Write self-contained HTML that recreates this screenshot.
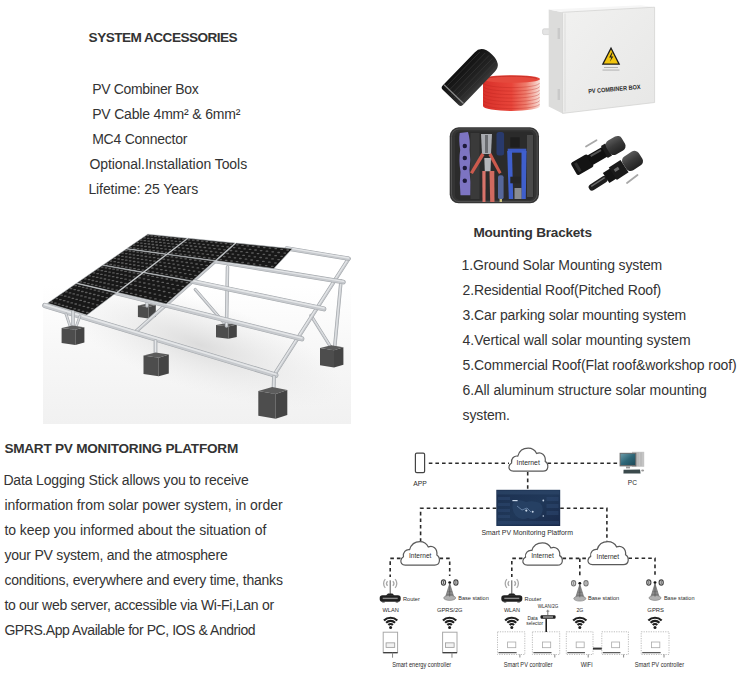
<!DOCTYPE html>
<html><head><meta charset="utf-8"><title>System Accessories</title>
<style>
html,body{margin:0;padding:0;background:#fff;}
body{width:750px;height:693px;overflow:hidden;position:relative;font-family:"Liberation Sans",sans-serif;color:#333;}
.t{position:absolute;white-space:nowrap;line-height:20px;}
svg{position:absolute;left:0;top:0;}
svg text{font-family:"Liberation Sans",sans-serif;}
</style></head><body>
<svg width="750" height="693" viewBox="0 0 750 693">
<defs>
<linearGradient id="sg" x1="0" y1="0" x2="0" y2="1">
<stop offset="0" stop-color="#ffffff"/><stop offset="0.3" stop-color="#ffffff"/><stop offset="0.6" stop-color="#f8f8f8"/><stop offset="1" stop-color="#f1f1f1"/></linearGradient>
<radialGradient id="sh" cx="0.5" cy="0.5" r="0.5"><stop offset="0" stop-color="#d9d9d9" stop-opacity="0.9"/><stop offset="1" stop-color="#e8e8e8" stop-opacity="0"/></radialGradient>
</defs>
<rect x="43" y="226" width="308" height="198" fill="url(#sg)"/>
<ellipse cx="200" cy="345" rx="150" ry="45" fill="url(#sh)" transform="rotate(18 200 345)"/>
<polygon points="137.9,305.6 148.6,307.0 148.6,318.5 137.9,317.0" fill="#4d4d4d"/><polygon points="148.6,307.0 155.8,305.1 155.8,316.7 148.6,318.5" fill="#444444"/><polygon points="137.9,305.6 146.5,303.8 155.8,305.1 148.6,307.0" fill="#5c5c5c"/>
<polygon points="216.0,325.1 228.5,326.6 228.5,338.8 216.0,337.3" fill="#4d4d4d"/><polygon points="228.5,326.6 236.8,324.6 236.8,336.9 228.5,338.8" fill="#444444"/><polygon points="216.0,325.1 226.0,323.2 236.8,324.6 228.5,326.6" fill="#5c5c5c"/>
<line x1="227.5" y1="267" x2="226.5" y2="326" stroke="#a3a7ab" stroke-width="3.5" stroke-linecap="round"/><line x1="227.5" y1="267" x2="226.5" y2="326" stroke="#c6c9cd" stroke-width="2.4" stroke-linecap="round"/><line x1="227.5" y1="266.472" x2="226.5" y2="325.472" stroke="#e4e6e8" stroke-width="0.96" stroke-linecap="round"/>
<line x1="341" y1="281" x2="334.5" y2="349" stroke="#a3a7ab" stroke-width="3.5" stroke-linecap="round"/><line x1="341" y1="281" x2="334.5" y2="349" stroke="#c6c9cd" stroke-width="2.4" stroke-linecap="round"/><line x1="341" y1="280.472" x2="334.5" y2="348.472" stroke="#e4e6e8" stroke-width="0.96" stroke-linecap="round"/>
<line x1="147" y1="296" x2="147" y2="306" stroke="#a3a7ab" stroke-width="3.3000000000000003" stroke-linecap="round"/><line x1="147" y1="296" x2="147" y2="306" stroke="#c6c9cd" stroke-width="2.2" stroke-linecap="round"/><line x1="147" y1="295.516" x2="147" y2="305.516" stroke="#e4e6e8" stroke-width="0.8800000000000001" stroke-linecap="round"/>
<line x1="195.2" y1="289.4" x2="223.8" y2="322.6" stroke="#a3a7ab" stroke-width="3.1" stroke-linecap="round"/><line x1="195.2" y1="289.4" x2="223.8" y2="322.6" stroke="#c6c9cd" stroke-width="2.0" stroke-linecap="round"/><line x1="195.2" y1="288.96" x2="223.8" y2="322.16" stroke="#e4e6e8" stroke-width="0.8" stroke-linecap="round"/>
<line x1="310.9" y1="315.4" x2="331.7" y2="348.6" stroke="#a3a7ab" stroke-width="3.1" stroke-linecap="round"/><line x1="310.9" y1="315.4" x2="331.7" y2="348.6" stroke="#c6c9cd" stroke-width="2.0" stroke-linecap="round"/><line x1="310.9" y1="314.96" x2="331.7" y2="348.16" stroke="#e4e6e8" stroke-width="0.8" stroke-linecap="round"/>
<line x1="232.02358527353192" y1="246.27956898623913" x2="135.22382398342404" y2="332.21471866113677" stroke="#a3a7ab" stroke-width="3.7" stroke-linecap="round"/><line x1="232.02358527353192" y1="246.27956898623913" x2="135.22382398342404" y2="332.21471866113677" stroke="#c6c9cd" stroke-width="2.6" stroke-linecap="round"/><line x1="232.02358527353192" y1="245.70756898623912" x2="135.22382398342404" y2="331.64271866113677" stroke="#e4e6e8" stroke-width="1.04" stroke-linecap="round"/>
<line x1="348.6" y1="258.7" x2="273.5" y2="376" stroke="#a3a7ab" stroke-width="3.9" stroke-linecap="round"/><line x1="348.6" y1="258.7" x2="273.5" y2="376" stroke="#c6c9cd" stroke-width="2.8" stroke-linecap="round"/><line x1="348.6" y1="258.084" x2="273.5" y2="375.384" stroke="#e4e6e8" stroke-width="1.1199999999999999" stroke-linecap="round"/>
<line x1="286.61335920662464" y1="248.32119912124583" x2="348.6" y2="258.7" stroke="#a3a7ab" stroke-width="4.300000000000001" stroke-linecap="round"/><line x1="286.61335920662464" y1="248.32119912124583" x2="348.6" y2="258.7" stroke="#c6c9cd" stroke-width="3.2" stroke-linecap="round"/><line x1="286.61335920662464" y1="247.61719912124582" x2="348.6" y2="257.996" stroke="#e4e6e8" stroke-width="1.2800000000000002" stroke-linecap="round"/>
<line x1="210.2469800425318" y1="260.2094666691642" x2="343.4" y2="282.1" stroke="#a3a7ab" stroke-width="4.6" stroke-linecap="round"/><line x1="210.2469800425318" y1="260.2094666691642" x2="343.4" y2="282.1" stroke="#c6c9cd" stroke-width="3.5" stroke-linecap="round"/><line x1="210.2469800425318" y1="259.43946666916423" x2="343.4" y2="281.33000000000004" stroke="#e4e6e8" stroke-width="1.4000000000000001" stroke-linecap="round"/>
<line x1="187.20019807466076" y1="280.3348547116161" x2="323.9" y2="308.9" stroke="#a3a7ab" stroke-width="4.9" stroke-linecap="round"/><line x1="187.20019807466076" y1="280.3348547116161" x2="323.9" y2="308.9" stroke="#c6c9cd" stroke-width="3.8" stroke-linecap="round"/><line x1="187.20019807466076" y1="279.4988547116161" x2="323.9" y2="308.06399999999996" stroke="#e4e6e8" stroke-width="1.52" stroke-linecap="round"/>
<line x1="112.41259112036578" y1="291.6855285993075" x2="301.8" y2="338.8" stroke="#a3a7ab" stroke-width="5.1" stroke-linecap="round"/><line x1="112.41259112036578" y1="291.6855285993075" x2="301.8" y2="338.8" stroke="#c6c9cd" stroke-width="4.0" stroke-linecap="round"/><line x1="112.41259112036578" y1="290.8055285993075" x2="301.8" y2="337.92" stroke="#e4e6e8" stroke-width="1.6" stroke-linecap="round"/>
<line x1="44.8" y1="305.5" x2="275.8" y2="375.2" stroke="#a3a7ab" stroke-width="5.300000000000001" stroke-linecap="round"/><line x1="44.8" y1="305.5" x2="275.8" y2="375.2" stroke="#c6c9cd" stroke-width="4.2" stroke-linecap="round"/><line x1="44.8" y1="304.576" x2="275.8" y2="374.276" stroke="#e4e6e8" stroke-width="1.6800000000000002" stroke-linecap="round"/>
<polygon points="147.8,234.2 187.3,238.2 166.6,254.0 126.8,248.6" fill="#181818" stroke="#b4b8bc" stroke-width="0.6"/><path d="M147.2,235.5h1.5M143.8,237.9h1.5M140.4,240.2h1.5M136.9,242.6h1.5M133.4,245.1h1.5M129.8,247.6h1.5M150.9,235.9h1.5M147.5,238.3h1.5M144.1,240.7h1.5M140.6,243.1h1.5M137.1,245.6h1.5M133.5,248.1h1.5M154.7,236.3h1.5M151.3,238.7h1.5M147.9,241.1h1.5M144.4,243.6h1.5M140.9,246.0h1.5M137.3,248.6h1.5M158.5,236.7h1.5M155.1,239.1h1.5M151.7,241.5h1.5M148.2,244.0h1.5M144.7,246.5h1.5M141.1,249.1h1.5M162.4,237.1h1.5M159.0,239.5h1.5M155.6,242.0h1.5M152.1,244.5h1.5M148.6,247.0h1.5M145.0,249.6h1.5M166.3,237.5h1.5M163.0,240.0h1.5M159.6,242.4h1.5M156.1,245.0h1.5M152.6,247.5h1.5M149.0,250.1h1.5M170.3,237.9h1.5M167.0,240.4h1.5M163.6,242.9h1.5M160.1,245.4h1.5M156.6,248.0h1.5M153.0,250.7h1.5M174.4,238.3h1.5M171.1,240.8h1.5M167.7,243.4h1.5M164.2,245.9h1.5M160.7,248.6h1.5M157.1,251.2h1.5M178.5,238.8h1.5M175.2,241.3h1.5M171.8,243.8h1.5M168.4,246.4h1.5M164.9,249.1h1.5M161.3,251.8h1.5M182.7,239.2h1.5M179.4,241.7h1.5M176.0,244.3h1.5M172.6,246.9h1.5M169.1,249.6h1.5M165.5,252.3h1.5" stroke="#5c5c5c" stroke-width="1.3" stroke-linecap="round" fill="none"/>
<polygon points="188.4,238.3 235.0,243.0 215.1,260.6 167.8,254.2" fill="#181818" stroke="#b4b8bc" stroke-width="0.6"/><path d="M188.2,239.8h1.5M184.8,242.3h1.5M181.5,244.9h1.5M178.0,247.6h1.5M174.5,250.3h1.5M171.0,253.1h1.5M192.5,240.2h1.5M189.2,242.8h1.5M185.9,245.4h1.5M182.4,248.1h1.5M178.9,250.9h1.5M175.4,253.6h1.5M197.0,240.7h1.5M193.7,243.3h1.5M190.3,246.0h1.5M186.9,248.7h1.5M183.4,251.4h1.5M179.9,254.2h1.5M201.5,241.1h1.5M198.2,243.8h1.5M194.8,246.5h1.5M191.4,249.2h1.5M188.0,252.0h1.5M184.4,254.8h1.5M206.0,241.6h1.5M202.8,244.3h1.5M199.4,247.0h1.5M196.0,249.8h1.5M192.6,252.6h1.5M189.1,255.5h1.5M210.7,242.1h1.5M207.4,244.8h1.5M204.1,247.5h1.5M200.7,250.3h1.5M197.3,253.2h1.5M193.8,256.1h1.5M215.4,242.6h1.5M212.2,245.3h1.5M208.9,248.1h1.5M205.5,250.9h1.5M202.1,253.8h1.5M198.6,256.7h1.5M220.3,243.1h1.5M217.0,245.8h1.5M213.7,248.6h1.5M210.4,251.5h1.5M207.0,254.4h1.5M203.5,257.4h1.5M225.2,243.6h1.5M221.9,246.4h1.5M218.7,249.2h1.5M215.3,252.1h1.5M211.9,255.0h1.5M208.5,258.0h1.5M230.1,244.1h1.5M226.9,246.9h1.5M223.7,249.8h1.5M220.4,252.7h1.5M217.0,255.7h1.5M213.5,258.7h1.5" stroke="#5c5c5c" stroke-width="1.3" stroke-linecap="round" fill="none"/>
<polygon points="236.3,243.1 292.2,248.7 273.8,268.6 216.5,260.8" fill="#181818" stroke="#b4b8bc" stroke-width="0.6"/><path d="M236.6,244.8h1.5M233.4,247.6h1.5M230.2,250.5h1.5M226.9,253.5h1.5M223.5,256.5h1.5M220.1,259.6h1.5M241.8,245.3h1.5M238.6,248.2h1.5M235.4,251.1h1.5M232.1,254.1h1.5M228.8,257.2h1.5M225.4,260.3h1.5M247.1,245.9h1.5M243.9,248.8h1.5M240.7,251.7h1.5M237.5,254.8h1.5M234.2,257.8h1.5M230.8,261.0h1.5M252.4,246.4h1.5M249.3,249.4h1.5M246.2,252.4h1.5M242.9,255.4h1.5M239.6,258.5h1.5M236.3,261.7h1.5M257.9,247.0h1.5M254.8,250.0h1.5M251.7,253.0h1.5M248.5,256.1h1.5M245.2,259.2h1.5M241.9,262.5h1.5M263.5,247.6h1.5M260.4,250.6h1.5M257.3,253.6h1.5M254.1,256.8h1.5M250.9,260.0h1.5M247.6,263.2h1.5M269.2,248.1h1.5M266.2,251.2h1.5M263.1,254.3h1.5M259.9,257.5h1.5M256.7,260.7h1.5M253.4,264.0h1.5M275.0,248.7h1.5M272.0,251.8h1.5M268.9,255.0h1.5M265.8,258.2h1.5M262.6,261.4h1.5M259.3,264.8h1.5M280.9,249.4h1.5M277.9,252.5h1.5M274.9,255.7h1.5M271.8,258.9h1.5M268.6,262.2h1.5M265.4,265.6h1.5M286.9,250.0h1.5M284.0,253.1h1.5M280.9,256.3h1.5M277.9,259.6h1.5M274.7,263.0h1.5M271.5,266.4h1.5" stroke="#5c5c5c" stroke-width="1.3" stroke-linecap="round" fill="none"/>
<polygon points="126.3,249.0 166.0,254.4 143.0,272.1 103.1,264.9" fill="#181818" stroke="#b4b8bc" stroke-width="0.6"/><path d="M125.5,250.5h1.5M121.8,253.1h1.5M118.0,255.7h1.5M114.1,258.4h1.5M110.2,261.1h1.5M106.2,263.8h1.5M129.2,251.0h1.5M125.5,253.6h1.5M121.7,256.3h1.5M117.9,259.0h1.5M114.0,261.7h1.5M110.0,264.5h1.5M133.0,251.6h1.5M129.3,254.2h1.5M125.5,256.9h1.5M121.7,259.6h1.5M117.7,262.3h1.5M113.8,265.2h1.5M136.9,252.1h1.5M133.1,254.8h1.5M129.4,257.5h1.5M125.5,260.2h1.5M121.6,263.0h1.5M117.6,265.8h1.5M140.8,252.7h1.5M137.1,255.3h1.5M133.3,258.1h1.5M129.4,260.8h1.5M125.5,263.7h1.5M121.5,266.5h1.5M144.7,253.2h1.5M141.0,255.9h1.5M137.3,258.7h1.5M133.4,261.5h1.5M129.5,264.3h1.5M125.5,267.2h1.5M148.8,253.8h1.5M145.1,256.5h1.5M141.3,259.3h1.5M137.5,262.1h1.5M133.5,265.0h1.5M129.6,267.9h1.5M152.9,254.4h1.5M149.2,257.1h1.5M145.4,259.9h1.5M141.6,262.8h1.5M137.7,265.7h1.5M133.7,268.7h1.5M157.1,254.9h1.5M153.4,257.7h1.5M149.6,260.6h1.5M145.8,263.5h1.5M141.9,266.4h1.5M137.9,269.4h1.5M161.3,255.5h1.5M157.6,258.4h1.5M153.8,261.2h1.5M150.0,264.1h1.5M146.1,267.1h1.5M142.1,270.1h1.5" stroke="#5c5c5c" stroke-width="1.3" stroke-linecap="round" fill="none"/>
<polygon points="167.2,254.6 214.5,261.1 192.2,280.9 144.2,272.3" fill="#181818" stroke="#b4b8bc" stroke-width="0.6"/><path d="M166.8,256.3h1.5M163.1,259.2h1.5M159.3,262.1h1.5M155.5,265.0h1.5M151.6,268.0h1.5M147.7,271.1h1.5M171.2,256.9h1.5M167.5,259.8h1.5M163.8,262.8h1.5M160.0,265.7h1.5M156.1,268.8h1.5M152.1,271.9h1.5M175.7,257.6h1.5M172.0,260.5h1.5M168.3,263.4h1.5M164.5,266.5h1.5M160.6,269.6h1.5M156.6,272.7h1.5M180.3,258.2h1.5M176.6,261.1h1.5M172.9,264.1h1.5M169.1,267.2h1.5M165.2,270.3h1.5M161.2,273.5h1.5M184.9,258.8h1.5M181.3,261.8h1.5M177.5,264.9h1.5M173.7,268.0h1.5M169.9,271.1h1.5M165.9,274.3h1.5M189.6,259.5h1.5M186.0,262.5h1.5M182.3,265.6h1.5M178.5,268.7h1.5M174.6,271.9h1.5M170.7,275.2h1.5M194.5,260.2h1.5M190.8,263.2h1.5M187.1,266.3h1.5M183.4,269.5h1.5M179.5,272.7h1.5M175.6,276.0h1.5M199.4,260.9h1.5M195.8,264.0h1.5M192.1,267.1h1.5M188.3,270.3h1.5M184.5,273.6h1.5M180.6,276.9h1.5M204.4,261.6h1.5M200.8,264.7h1.5M197.1,267.9h1.5M193.3,271.1h1.5M189.5,274.4h1.5M185.6,277.8h1.5M209.5,262.3h1.5M205.9,265.4h1.5M202.2,268.7h1.5M198.5,271.9h1.5M194.7,275.3h1.5M190.8,278.7h1.5" stroke="#5c5c5c" stroke-width="1.3" stroke-linecap="round" fill="none"/>
<polygon points="102.5,265.3 142.4,272.6 116.6,292.3 76.8,283.0" fill="#181818" stroke="#b4b8bc" stroke-width="0.6"/><path d="M101.5,267.1h1.5M97.4,269.9h1.5M93.2,272.8h1.5M88.9,275.8h1.5M84.6,278.8h1.5M80.1,281.9h1.5M105.3,267.8h1.5M101.1,270.7h1.5M96.9,273.6h1.5M92.6,276.6h1.5M88.3,279.6h1.5M83.9,282.7h1.5M109.0,268.5h1.5M104.9,271.4h1.5M100.7,274.4h1.5M96.4,277.4h1.5M92.1,280.5h1.5M87.6,283.6h1.5M112.9,269.2h1.5M108.8,272.1h1.5M104.6,275.1h1.5M100.3,278.2h1.5M95.9,281.3h1.5M91.5,284.5h1.5M116.8,269.9h1.5M112.7,272.9h1.5M108.5,275.9h1.5M104.2,279.0h1.5M99.8,282.2h1.5M95.4,285.4h1.5M120.8,270.6h1.5M116.7,273.7h1.5M112.4,276.7h1.5M108.2,279.8h1.5M103.8,283.0h1.5M99.3,286.3h1.5M124.8,271.4h1.5M120.7,274.4h1.5M116.5,277.5h1.5M112.2,280.7h1.5M107.8,283.9h1.5M103.4,287.2h1.5M129.0,272.2h1.5M124.8,275.2h1.5M120.6,278.4h1.5M116.3,281.6h1.5M112.0,284.8h1.5M107.5,288.1h1.5M133.2,272.9h1.5M129.0,276.1h1.5M124.8,279.2h1.5M120.5,282.5h1.5M116.2,285.7h1.5M111.7,289.1h1.5M137.4,273.7h1.5M133.3,276.9h1.5M129.1,280.1h1.5M124.8,283.4h1.5M120.4,286.7h1.5M116.0,290.1h1.5" stroke="#5c5c5c" stroke-width="1.3" stroke-linecap="round" fill="none"/>
<polygon points="143.6,272.8 191.6,281.5 166.2,303.9 117.8,292.6" fill="#181818" stroke="#b4b8bc" stroke-width="0.6"/><path d="M143.0,274.7h1.5M138.8,277.9h1.5M134.6,281.2h1.5M130.3,284.5h1.5M126.0,287.9h1.5M121.5,291.4h1.5M147.4,275.6h1.5M143.3,278.8h1.5M139.1,282.1h1.5M134.8,285.5h1.5M130.4,288.9h1.5M126.0,292.4h1.5M151.9,276.4h1.5M147.8,279.7h1.5M143.6,283.0h1.5M139.3,286.4h1.5M135.0,289.9h1.5M130.5,293.4h1.5M156.6,277.3h1.5M152.5,280.6h1.5M148.3,283.9h1.5M144.0,287.4h1.5M139.6,290.9h1.5M135.2,294.5h1.5M161.3,278.1h1.5M157.2,281.5h1.5M153.0,284.9h1.5M148.7,288.4h1.5M144.3,291.9h1.5M139.9,295.6h1.5M166.1,279.0h1.5M162.0,282.4h1.5M157.8,285.9h1.5M153.5,289.4h1.5M149.2,293.0h1.5M144.7,296.7h1.5M170.9,279.9h1.5M166.9,283.4h1.5M162.7,286.9h1.5M158.4,290.4h1.5M154.1,294.1h1.5M149.7,297.8h1.5M175.9,280.8h1.5M171.8,284.3h1.5M167.7,287.9h1.5M163.4,291.5h1.5M159.1,295.2h1.5M154.7,298.9h1.5M181.0,281.8h1.5M176.9,285.3h1.5M172.8,288.9h1.5M168.5,292.6h1.5M164.2,296.3h1.5M159.8,300.1h1.5M186.2,282.7h1.5M182.1,286.3h1.5M178.0,289.9h1.5M173.8,293.7h1.5M169.4,297.4h1.5M165.0,301.3h1.5" stroke="#5c5c5c" stroke-width="1.3" stroke-linecap="round" fill="none"/>
<polygon points="76.1,283.5 115.9,292.9 86.9,315.1 47.5,303.2" fill="#181818" stroke="#b4b8bc" stroke-width="0.6"/><path d="M74.9,285.5h1.5M70.3,288.7h1.5M65.6,291.9h1.5M60.8,295.2h1.5M56.0,298.6h1.5M51.0,302.0h1.5M78.6,286.4h1.5M74.0,289.6h1.5M69.3,292.9h1.5M64.5,296.2h1.5M59.6,299.6h1.5M54.7,303.1h1.5M82.4,287.3h1.5M77.8,290.5h1.5M73.0,293.9h1.5M68.3,297.2h1.5M63.4,300.7h1.5M58.4,304.2h1.5M86.2,288.2h1.5M81.6,291.5h1.5M76.9,294.9h1.5M72.1,298.3h1.5M67.2,301.8h1.5M62.2,305.3h1.5M90.1,289.1h1.5M85.5,292.5h1.5M80.7,295.9h1.5M75.9,299.3h1.5M71.0,302.9h1.5M66.0,306.5h1.5M94.1,290.1h1.5M89.4,293.5h1.5M84.7,296.9h1.5M79.9,300.4h1.5M75.0,304.0h1.5M70.0,307.6h1.5M98.1,291.1h1.5M93.5,294.5h1.5M88.7,298.0h1.5M83.9,301.5h1.5M79.0,305.1h1.5M74.0,308.8h1.5M102.2,292.1h1.5M97.6,295.5h1.5M92.9,299.0h1.5M88.0,302.6h1.5M83.1,306.3h1.5M78.1,310.0h1.5M106.4,293.1h1.5M101.8,296.6h1.5M97.0,300.1h1.5M92.2,303.8h1.5M87.3,307.5h1.5M82.2,311.3h1.5M110.7,294.1h1.5M106.1,297.6h1.5M101.3,301.3h1.5M96.5,304.9h1.5M91.5,308.7h1.5M86.5,312.5h1.5" stroke="#5c5c5c" stroke-width="1.3" stroke-linecap="round" fill="none"/>
<line x1="73" y1="312" x2="73" y2="330" stroke="#a3a7ab" stroke-width="3.5" stroke-linecap="round"/><line x1="73" y1="312" x2="73" y2="330" stroke="#c6c9cd" stroke-width="2.4" stroke-linecap="round"/><line x1="73" y1="311.472" x2="73" y2="329.472" stroke="#e4e6e8" stroke-width="0.96" stroke-linecap="round"/>
<line x1="66" y1="314" x2="70" y2="326" stroke="#a3a7ab" stroke-width="2.7" stroke-linecap="round"/><line x1="66" y1="314" x2="70" y2="326" stroke="#c6c9cd" stroke-width="1.6" stroke-linecap="round"/><line x1="66" y1="313.648" x2="70" y2="325.648" stroke="#e4e6e8" stroke-width="0.6400000000000001" stroke-linecap="round"/>
<line x1="80" y1="316" x2="76" y2="327" stroke="#a3a7ab" stroke-width="2.7" stroke-linecap="round"/><line x1="80" y1="316" x2="76" y2="327" stroke="#c6c9cd" stroke-width="1.6" stroke-linecap="round"/><line x1="80" y1="315.648" x2="76" y2="326.648" stroke="#e4e6e8" stroke-width="0.6400000000000001" stroke-linecap="round"/>
<polygon points="61.6,327.9 75.3,329.8 75.3,345.0 61.6,343.1" fill="#4d4d4d"/><polygon points="75.3,329.8 84.4,327.2 84.4,342.6 75.3,345.0" fill="#444444"/><polygon points="61.6,327.9 72.5,325.5 84.4,327.2 75.3,329.8" fill="#5c5c5c"/>
<line x1="155.5" y1="341" x2="155.5" y2="356" stroke="#a3a7ab" stroke-width="3.7" stroke-linecap="round"/><line x1="155.5" y1="341" x2="155.5" y2="356" stroke="#c6c9cd" stroke-width="2.6" stroke-linecap="round"/><line x1="155.5" y1="340.428" x2="155.5" y2="355.428" stroke="#e4e6e8" stroke-width="1.04" stroke-linecap="round"/>
<polygon points="143.5,355.4 158.7,357.7 158.7,376.3 143.5,373.9" fill="#4d4d4d"/><polygon points="158.7,357.7 168.8,354.6 168.8,373.4 158.7,376.3" fill="#444444"/><polygon points="143.5,355.4 155.6,352.5 168.8,354.6 158.7,357.7" fill="#5c5c5c"/>
<polygon points="320.0,348.0 334.0,350.2 334.0,367.4 320.0,365.2" fill="#4d4d4d"/><polygon points="334.0,350.2 343.4,347.2 343.4,364.7 334.0,367.4" fill="#444444"/><polygon points="320.0,348.0 331.2,345.3 343.4,347.2 334.0,350.2" fill="#5c5c5c"/>
<line x1="274" y1="377" x2="273.5" y2="392" stroke="#a3a7ab" stroke-width="3.9" stroke-linecap="round"/><line x1="274" y1="377" x2="273.5" y2="392" stroke="#c6c9cd" stroke-width="2.8" stroke-linecap="round"/><line x1="274" y1="376.384" x2="273.5" y2="391.384" stroke="#e4e6e8" stroke-width="1.1199999999999999" stroke-linecap="round"/>
<polygon points="258.3,390.9 275.7,394.1 275.7,418.8 258.3,415.7" fill="#4d4d4d"/><polygon points="275.7,394.1 287.3,389.9 287.3,415.0 275.7,418.8" fill="#444444"/><polygon points="258.3,390.9 272.2,387.1 287.3,389.9 275.7,394.1" fill="#5c5c5c"/>
<defs>
<linearGradient id="redg" x1="0" y1="0" x2="1" y2="0">
<stop offset="0" stop-color="#d8302a"/><stop offset="0.5" stop-color="#e8453a"/><stop offset="0.75" stop-color="#ee7c6c"/><stop offset="0.92" stop-color="#f5c2b8"/><stop offset="1" stop-color="#f9e2dc"/></linearGradient>
<linearGradient id="boxg" x1="0" y1="0" x2="1" y2="1">
<stop offset="0" stop-color="#f1f1f0"/><stop offset="1" stop-color="#e7e7e6"/></linearGradient>
<linearGradient id="blkg" x1="0" y1="0" x2="1" y2="0">
<stop offset="0" stop-color="#101010"/><stop offset="0.7" stop-color="#262626"/><stop offset="1" stop-color="#3a3a3a"/></linearGradient>
</defs>
<rect x="542.6" y="28.8" width="8" height="5.8" rx="1.5" fill="#e4e4e4" stroke="#c8c8c8" stroke-width="0.6"/>
<polygon points="548.7,9.5 562.5,12.3 562.5,113.4 548.7,106.5" fill="#dcdcdb"/>
<polygon points="548.7,9.5 562.5,12.3 654.6,7.2 641,5.2" fill="#f6f6f6"/>
<polygon points="562.5,12.3 654.6,7.2 654.6,102.5 562.5,113.4" fill="url(#boxg)" stroke="#d0d0cf" stroke-width="0.7"/>
<line x1="565" y1="13.5" x2="565" y2="111.5" stroke="#d8d8d7" stroke-width="0.8"/>
<rect x="557.6" y="28" width="2.4" height="11" fill="#c9c9c9"/>
<rect x="557.6" y="89" width="2.4" height="11" fill="#c9c9c9"/>
<polygon points="611,46.8 601.8,64.8 620.2,64.8" fill="#1a1a1a"/>
<polygon points="611,49.4 603.9,63.4 618.1,63.4" fill="#f1c40f"/>
<path d="M611.8,52.5 L609.2,57.5 L611.4,57.5 L609.9,61.8 L613.3,56.4 L611.1,56.4 L612.6,52.5Z" fill="#1a1a1a"/>
<rect x="604" y="67" width="14" height="0.9" fill="#aaa"/><rect x="602.5" y="69.6" width="17" height="0.9" fill="#aaa"/>
<text x="588" y="91.2" font-size="6.3" font-weight="bold" fill="#2a2a2a" textLength="52.5" lengthAdjust="spacingAndGlyphs" transform="rotate(-5 614 88)" font-family="Liberation Sans, sans-serif">PV COMBINER BOX</text>
<path d="M483,79 L483,106 A28.5,5 0 0 0 540,106 L540,79 Z" fill="url(#redg)"/>
<path d="M483.5,83.0 A28,4.6 0 0 0 539.5,83.0 M483.5,86.5 A28,4.6 0 0 0 539.5,86.5 M483.5,90.0 A28,4.6 0 0 0 539.5,90.0 M483.5,93.5 A28,4.6 0 0 0 539.5,93.5 M483.5,97.0 A28,4.6 0 0 0 539.5,97.0 M483.5,100.5 A28,4.6 0 0 0 539.5,100.5 M483.5,104.0 A28,4.6 0 0 0 539.5,104.0 " stroke="#b8231c" stroke-width="0.6" fill="none" opacity="0.55"/>
<ellipse cx="511.5" cy="79" rx="28.5" ry="3.8" fill="#e5493d"/>
<path d="M486,79 A25.5,2.8 0 0 1 537,79" stroke="#c22a22" stroke-width="0.8" fill="none"/>
<g transform="rotate(44 471.5 76.5)">
<path d="M457,57 Q457,46.5 471,46.5 Q485,46.5 485,57 L485,103 Q485,106 482,106 L460,106 Q457,106 457,103 Z" fill="url(#blkg)"/>
<path d="M460.5,53 V100 M465,50 V103 M469.5,49 V104 M474,49 V104 M478.5,49 V103 M482.5,51 V101" stroke="#3a3a3a" stroke-width="0.6"/>
<path d="M457.5,101.5 L484.5,101.5" stroke="#8a8a8a" stroke-width="1.1" fill="none"/>

</g>
<rect x="449.7" y="127.3" width="89.3" height="76" rx="9" fill="#343434"/>
<rect x="451.5" y="129" width="85.7" height="72.6" rx="7.5" fill="none" stroke="#555" stroke-width="0.9"/>
<rect x="455" y="131.5" width="79" height="68.5" rx="5" fill="#2b2b2b"/>
<rect x="470.5" y="133" width="9" height="66" fill="#3a3a3a"/>
<rect x="527" y="135" width="6" height="62" fill="#4a4a4a"/>
<path d="M459.7,133 L468,132 Q470.5,140 469.6,150 Q471,160 469.5,170 Q471,182 470.3,195.3 L460.5,195.3 Q459,183 460.5,172 Q458.5,160 460.2,150 Q458.6,140 459.7,133Z" fill="#7d74c2"/>
<circle cx="464.8" cy="146" r="2.2" fill="#1d1a3a"/>
<circle cx="464.8" cy="158" r="2.2" fill="#1d1a3a"/>
<circle cx="464.8" cy="168" r="2.2" fill="#1d1a3a"/>
<circle cx="464.8" cy="180.7" r="2.2" fill="#1d1a3a"/>
<path d="M481,134 L492,134 L491,154 L482,154Z" fill="#a9abb0"/>
<path d="M485,135 L488,135 L488,153 L485,153Z" fill="#6a6c70"/>
<path d="M481.5,153 L470,172.5 L472.8,174 L484.5,155Z" fill="#cc5a4d"/>
<path d="M491.2,153 L501.5,172.5 L499,174 L488.5,155Z" fill="#cc5a4d"/>
<path d="M484.3,158 L491,158 L490.5,171.3 L484.8,171.3Z" fill="#b4b6ba"/>
<path d="M482.3,171 L485.6,171 L485.5,202 L482.5,202Z" fill="#d8736a"/>
<path d="M489.5,171 L494.3,171 L494.5,202 L490.2,202Z" fill="#d06a60"/>
<rect x="496.5" y="132" width="7.6" height="23.5" rx="2.5" fill="#293a6c"/>
<rect x="498" y="175.3" width="5.6" height="24" rx="2" fill="#56679a"/>
<rect x="499.6" y="199" width="2.4" height="3" fill="#c8c07a"/>
<rect x="510.3" y="137.3" width="9.4" height="10.2" fill="#1e1e1e"/>
<rect x="507.7" y="148.7" width="18.6" height="4" fill="#3c5ac4"/>
<path d="M507.2,151 L512,151 L513.2,199 L508.8,199Z" fill="#3f5fcc"/>
<path d="M521.5,151 L526.6,151 L525.8,199 L521.4,199Z" fill="#3f5fcc"/>
<rect x="510.3" y="176.7" width="10.7" height="6.6" fill="#262626"/>
<rect x="514.5" y="188" width="7" height="11" fill="#8a8c90"/>
<g stroke-linecap="round">
<line x1="586" y1="146.5" x2="596.5" y2="140.2" stroke="#a8a8a8" stroke-width="1.8"/>
<line x1="627" y1="183" x2="637.5" y2="175" stroke="#a8a8a8" stroke-width="1.8"/>
</g>
<defs><linearGradient id="capg" x1="0" y1="0" x2="0" y2="1"><stop offset="0" stop-color="#5a5a5a"/><stop offset="0.45" stop-color="#3a3a3a"/><stop offset="1" stop-color="#222"/></linearGradient></defs>
<g transform="translate(600,154.5) rotate(-30)">
<rect x="-30" y="-7.2" width="19" height="14.4" rx="2" fill="#141414"/>
<rect x="-27" y="-5" width="3" height="10" fill="#2e2e2e"/>
<rect x="-12" y="-5.6" width="18" height="11.2" fill="#111"/>
<rect x="-9" y="-4.2" width="12" height="2" fill="#555"/>
<rect x="5" y="-6.8" width="5" height="13.6" fill="#1c1c1c"/>
<rect x="9" y="-8" width="18" height="16" rx="5" fill="url(#capg)"/>
</g>
<g transform="translate(617,171) rotate(-33)">
<rect x="-33" y="-3.4" width="21" height="6.8" rx="3.2" fill="#1e1e1e"/>
<rect x="-30" y="-1.8" width="16" height="1.4" fill="#6a6a6a"/>
<rect x="-13" y="-6" width="9" height="12" fill="#141414"/>
<rect x="-5" y="-7.4" width="14" height="14.8" fill="#1a1a1a"/>
<rect x="-2" y="-3" width="5" height="3" fill="#6a6a6a"/>
<rect x="9" y="-8.2" width="19" height="16.4" rx="5" fill="url(#capg)"/>
</g>
<g font-family="Liberation Sans, sans-serif">
<path d="M428.8,463.2 H509" stroke="#2b2b2b" stroke-width="1.6" stroke-dasharray="3.6 3" fill="none"/>
<path d="M547.5,463.2 H619" stroke="#2b2b2b" stroke-width="1.6" stroke-dasharray="3.6 3" fill="none"/>
<path d="M527.7,472 V490" stroke="#2b2b2b" stroke-width="1.6" stroke-dasharray="3.6 3" fill="none"/>
<path d="M513.35,471.21 C509.88,471.21 508.70,468.65 508.99,466.68 C509.29,464.23 510.88,463.34 511.57,462.95 C510.88,458.82 513.85,455.47 517.80,456.06 C519.29,450.95 523.25,448.20 528.20,448.20 C532.16,448.20 535.13,450.46 536.62,453.41 C541.07,451.44 546.02,454.88 545.23,461.37 C547.50,462.75 548.00,464.72 547.80,467.18 C547.50,469.63 546.02,471.21 543.05,471.21 Z" fill="#fff" stroke="#5a5a5a" stroke-width="1.2"/>
<text x="516.6" y="465.0" font-size="6.6" text-anchor="start" fill="#2a2a2a" font-weight="normal"  textLength="23.2" lengthAdjust="spacingAndGlyphs">Internet</text>
<rect x="415.4" y="453.2" width="9.2" height="19.4" rx="1.4" fill="#fff" stroke="#444" stroke-width="1.2"/>
<text x="413.2" y="485.6" font-size="6.8" text-anchor="start" fill="#2a2a2a" font-weight="normal"  textLength="13.6" lengthAdjust="spacingAndGlyphs">APP</text>
<defs><linearGradient id="pcs" x1="0" y1="0" x2="1" y2="1"><stop offset="0" stop-color="#6a9aa8"/><stop offset="0.5" stop-color="#2f6778"/><stop offset="1" stop-color="#1d4a58"/></linearGradient></defs>
<rect x="632" y="451.8" width="12.2" height="15" fill="#c4c4c4"/>
<path d="M638,452.5 V466 M641,452.5 V466" stroke="#a0a0a0" stroke-width="0.5"/>
<rect x="619.6" y="452.8" width="16.8" height="13.6" fill="#6e6e6e"/>
<rect x="620.6" y="453.8" width="14.6" height="11.2" fill="url(#pcs)"/>
<rect x="626" y="466.4" width="4" height="2" fill="#9a9a9a"/>
<path d="M623.6,469.8 L640,469.6 L640.6,473.4 L623.4,473.6Z" fill="#3b4a4c"/>
<ellipse cx="642.6" cy="470.4" rx="1.5" ry="1" fill="#9a9a9a"/>
<text x="627.8" y="485.4" font-size="6.8" text-anchor="start" fill="#2a2a2a" font-weight="normal"  textLength="9.2" lengthAdjust="spacingAndGlyphs">PC</text>
<defs><linearGradient id="scr" x1="0" y1="0" x2="1" y2="1"><stop offset="0" stop-color="#1c3050"/><stop offset="0.5" stop-color="#203859"/><stop offset="1" stop-color="#19294a"/></linearGradient></defs>
<rect x="496.3" y="489.8" width="63.9" height="36.2" fill="url(#scr)"/>
<rect x="497" y="490.5" width="62.5" height="4" fill="#2c4668" opacity="0.7"/>
<g fill="#34507a" opacity="0.4"><rect x="498" y="497" width="12" height="3"/><rect x="498" y="503" width="12" height="3"/><rect x="498" y="509" width="12" height="3"/><rect x="498" y="515" width="12" height="3"/><rect x="546.5" y="497" width="12" height="4"/><rect x="546.5" y="504" width="12" height="4"/><rect x="546.5" y="511" width="12" height="4"/><rect x="498" y="521" width="61" height="3.5"/></g>
<path d="M513,503 Q518,498 526,502 Q533,500 540,503 Q545,508 541,515 Q535,521 528,518 Q521,521 516,516 Q511,510 513,503Z" fill="#2a4468" opacity="0.7"/>
<g fill="#c8d6e8"><rect x="512.4" y="500" width="5.2" height="1.2"/><circle cx="526.3" cy="510.6" r="1.1"/><circle cx="532.7" cy="511.7" r="1"/><circle cx="543.3" cy="500.5" r="0.9"/><circle cx="543.3" cy="516" r="0.8"/></g>
<path d="M517,506 L522,510 L527,508 L531,512" stroke="#7f9cc0" stroke-width="0.7" fill="none"/>
<text x="481.5" y="535.2" font-size="7.2" text-anchor="start" fill="#2a2a2a" font-weight="normal"  textLength="91.4" lengthAdjust="spacingAndGlyphs">Smart PV Monitoring Platform</text>
<path d="M496.3,508.3 H420.6 V541.5" stroke="#2b2b2b" stroke-width="1.6" stroke-dasharray="3.6 3" fill="none"/>
<path d="M560.2,508.3 H606.9 V541.5" stroke="#2b2b2b" stroke-width="1.6" stroke-dasharray="3.6 3" fill="none"/>
<path d="M400.5,558.4 H390.2 V577" stroke="#2b2b2b" stroke-width="1.6" stroke-dasharray="3.6 3" fill="none"/>
<path d="M439.5,558.4 H449.7 V576" stroke="#2b2b2b" stroke-width="1.6" stroke-dasharray="3.6 3" fill="none"/>
<path d="M405.21,565.10 C401.77,565.10 400.59,562.49 400.89,560.48 C401.18,557.97 402.76,557.06 403.44,556.66 C402.76,552.45 405.70,549.03 409.63,549.63 C411.11,544.41 415.04,541.60 419.95,541.60 C423.88,541.60 426.83,543.91 428.30,546.92 C432.72,544.91 437.63,548.43 436.85,555.06 C439.11,556.46 439.60,558.47 439.40,560.98 C439.11,563.49 437.63,565.10 434.69,565.10 Z" fill="#fff" stroke="#5a5a5a" stroke-width="1.2"/>
<text x="409.0" y="557.9" font-size="6.6" text-anchor="start" fill="#2a2a2a" font-weight="normal"  textLength="22.4" lengthAdjust="spacingAndGlyphs">Internet</text>
<path d="M522.5,558.4 H511.8 V577" stroke="#2b2b2b" stroke-width="1.6" stroke-dasharray="3.6 3" fill="none"/>
<path d="M562.5,558.4 H587.5" stroke="#2b2b2b" stroke-width="1.6" stroke-dasharray="3.6 3" fill="none"/>
<path d="M579.8,558.4 V577" stroke="#2b2b2b" stroke-width="1.6" stroke-dasharray="3.6 3" fill="none"/>
<path d="M527.32,565.12 C523.81,565.12 522.60,562.65 522.90,560.75 C523.20,558.38 524.81,557.52 525.52,557.14 C524.81,553.15 527.83,549.92 531.85,550.49 C533.35,545.55 537.38,542.89 542.40,542.89 C546.42,542.89 549.43,545.08 550.94,547.93 C555.46,546.03 560.49,549.35 559.69,555.62 C562.00,556.95 562.50,558.85 562.30,561.23 C562.00,563.60 560.49,565.12 557.47,565.12 Z" fill="#fff" stroke="#5a5a5a" stroke-width="1.2"/>
<text x="531.2" y="558.3" font-size="6.6" text-anchor="start" fill="#2a2a2a" font-weight="normal"  textLength="22.6" lengthAdjust="spacingAndGlyphs">Internet</text>
<path d="M628.4,558.2 H655 V577" stroke="#2b2b2b" stroke-width="1.6" stroke-dasharray="3.6 3" fill="none"/>
<path d="M592.52,564.61 C588.94,564.61 587.71,562.06 588.01,560.10 C588.32,557.66 589.96,556.77 590.68,556.38 C589.96,552.27 593.04,548.94 597.14,549.53 C598.67,544.44 602.77,541.70 607.90,541.70 C612.00,541.70 615.07,543.95 616.61,546.89 C621.23,544.93 626.35,548.35 625.53,554.82 C627.89,556.19 628.40,558.15 628.19,560.59 C627.89,563.04 626.35,564.61 623.27,564.61 Z" fill="#fff" stroke="#5a5a5a" stroke-width="1.2"/>
<text x="596.6" y="558.6" font-size="6.6" text-anchor="start" fill="#2a2a2a" font-weight="normal"  textLength="22.6" lengthAdjust="spacingAndGlyphs">Internet</text>
<line x1="390.2" y1="580.3" x2="390.2" y2="594.3" stroke="#444" stroke-width="0.9"/><path d="M392.88,581.09 A3.6,3.6 0 0 1 392.88,585.91" stroke="#a8a8a8" stroke-width="1.3" fill="none"/><path d="M387.52,581.09 A3.6,3.6 0 0 0 387.52,585.91" stroke="#a8a8a8" stroke-width="1.3" fill="none"/><path d="M395.10,579.08 A6.6,6.6 0 0 1 395.10,587.92" stroke="#a8a8a8" stroke-width="1.3" fill="none"/><path d="M385.30,579.08 A6.6,6.6 0 0 0 385.30,587.92" stroke="#a8a8a8" stroke-width="1.3" fill="none"/><path d="M385.7,595.8 L388.0,593.5 L392.4,593.5 L394.7,595.8Z" fill="#222"/><rect x="379.7" y="595.3" width="21" height="6.4" rx="2.8" fill="#1f1f1f"/><rect x="382.7" y="597.6999999999999" width="15" height="1.4" fill="#8a8a8a"/><rect x="382.2" y="601.3" width="2.5" height="1.2" fill="#333"/><rect x="395.7" y="601.3" width="2.5" height="1.2" fill="#333"/>
<text x="403.0" y="600.5" font-size="5.8" text-anchor="start" fill="#2a2a2a" font-weight="normal"  textLength="16.8" lengthAdjust="spacingAndGlyphs">Router</text>
<text x="382.4" y="611.8" font-size="6.2" text-anchor="start" fill="#2a2a2a" font-weight="normal"  textLength="16.4" lengthAdjust="spacingAndGlyphs">WLAN</text>
<ellipse cx="443.5" cy="582.6" rx="2.1" ry="2.7" fill="#d8d8d8" stroke="#444" stroke-width="1.1"/><line x1="443.5" y1="581.0" x2="443.5" y2="584.2" stroke="#444" stroke-width="0.8"/><ellipse cx="455.9" cy="582.6" rx="2.1" ry="2.7" fill="#d8d8d8" stroke="#444" stroke-width="1.1"/><line x1="455.9" y1="581.0" x2="455.9" y2="584.2" stroke="#444" stroke-width="0.8"/><circle cx="449.7" cy="582.6" r="1.4" fill="#111"/><path d="M449.7,583.6 L445.5,597.1 L453.9,597.1 Z" fill="#8c8c8c" stroke="#666" stroke-width="0.6"/><path d="M447.2,591.6 L452.2,591.6 M446.4,594.6 L453.0,594.6" stroke="#666" stroke-width="0.5"/><ellipse cx="449.7" cy="597.9" rx="6" ry="2.5" fill="#b0b0b0" stroke="#7a7a7a" stroke-width="0.6"/><line x1="449.7" y1="583.6" x2="449.7" y2="596.6" stroke="#555" stroke-width="0.7"/>
<text x="458.2" y="600.4" font-size="5.8" text-anchor="start" fill="#2a2a2a" font-weight="normal"  textLength="30.6" lengthAdjust="spacingAndGlyphs">Base station</text>
<text x="437.0" y="612" font-size="6.2" text-anchor="start" fill="#2a2a2a" font-weight="normal"  textLength="25.6" lengthAdjust="spacingAndGlyphs">GPRS/2G</text>
<line x1="511.8" y1="580.3" x2="511.8" y2="594.3" stroke="#444" stroke-width="0.9"/><path d="M514.48,581.09 A3.6,3.6 0 0 1 514.48,585.91" stroke="#a8a8a8" stroke-width="1.3" fill="none"/><path d="M509.12,581.09 A3.6,3.6 0 0 0 509.12,585.91" stroke="#a8a8a8" stroke-width="1.3" fill="none"/><path d="M516.70,579.08 A6.6,6.6 0 0 1 516.70,587.92" stroke="#a8a8a8" stroke-width="1.3" fill="none"/><path d="M506.90,579.08 A6.6,6.6 0 0 0 506.90,587.92" stroke="#a8a8a8" stroke-width="1.3" fill="none"/><path d="M507.3,595.8 L509.6,593.5 L514.0,593.5 L516.3,595.8Z" fill="#222"/><rect x="501.3" y="595.3" width="21" height="6.4" rx="2.8" fill="#1f1f1f"/><rect x="504.3" y="597.6999999999999" width="15" height="1.4" fill="#8a8a8a"/><rect x="503.8" y="601.3" width="2.5" height="1.2" fill="#333"/><rect x="517.3" y="601.3" width="2.5" height="1.2" fill="#333"/>
<text x="524.6" y="600.5" font-size="5.8" text-anchor="start" fill="#2a2a2a" font-weight="normal"  textLength="16.8" lengthAdjust="spacingAndGlyphs">Router</text>
<text x="503.9" y="611.5" font-size="6.2" text-anchor="start" fill="#2a2a2a" font-weight="normal"  textLength="16.0" lengthAdjust="spacingAndGlyphs">WLAN</text>
<ellipse cx="573.5999999999999" cy="583.3" rx="2.1" ry="2.7" fill="#d8d8d8" stroke="#777" stroke-width="1.1"/><line x1="573.5999999999999" y1="581.6999999999999" x2="573.5999999999999" y2="584.9" stroke="#777" stroke-width="0.8"/><ellipse cx="586.0" cy="583.3" rx="2.1" ry="2.7" fill="#d8d8d8" stroke="#777" stroke-width="1.1"/><line x1="586.0" y1="581.6999999999999" x2="586.0" y2="584.9" stroke="#777" stroke-width="0.8"/><circle cx="579.8" cy="583.3" r="1.4" fill="#111"/><path d="M579.8,584.3 L575.5999999999999,597.8 L584.0,597.8 Z" fill="#8c8c8c" stroke="#666" stroke-width="0.6"/><path d="M577.3,592.3 L582.3,592.3 M576.5,595.3 L583.0999999999999,595.3" stroke="#666" stroke-width="0.5"/><ellipse cx="579.8" cy="598.5999999999999" rx="6" ry="2.5" fill="#b0b0b0" stroke="#7a7a7a" stroke-width="0.6"/><line x1="579.8" y1="584.3" x2="579.8" y2="597.3" stroke="#555" stroke-width="0.7"/>
<text x="587.9" y="600.2" font-size="5.8" text-anchor="start" fill="#2a2a2a" font-weight="normal"  textLength="31.4" lengthAdjust="spacingAndGlyphs">Base station</text>
<text x="576.4" y="612.2" font-size="6.2" text-anchor="start" fill="#2a2a2a" font-weight="normal"  textLength="7.0" lengthAdjust="spacingAndGlyphs">2G</text>
<ellipse cx="648.8" cy="582.6" rx="2.1" ry="2.7" fill="#d8d8d8" stroke="#444" stroke-width="1.1"/><line x1="648.8" y1="581.0" x2="648.8" y2="584.2" stroke="#444" stroke-width="0.8"/><ellipse cx="661.2" cy="582.6" rx="2.1" ry="2.7" fill="#d8d8d8" stroke="#444" stroke-width="1.1"/><line x1="661.2" y1="581.0" x2="661.2" y2="584.2" stroke="#444" stroke-width="0.8"/><circle cx="655" cy="582.6" r="1.4" fill="#111"/><path d="M655,583.6 L650.8,597.1 L659.2,597.1 Z" fill="#8c8c8c" stroke="#666" stroke-width="0.6"/><path d="M652.5,591.6 L657.5,591.6 M651.7,594.6 L658.3,594.6" stroke="#666" stroke-width="0.5"/><ellipse cx="655" cy="597.9" rx="6" ry="2.5" fill="#b0b0b0" stroke="#7a7a7a" stroke-width="0.6"/><line x1="655" y1="583.6" x2="655" y2="596.6" stroke="#555" stroke-width="0.7"/>
<text x="663.9" y="599.6" font-size="5.8" text-anchor="start" fill="#2a2a2a" font-weight="normal"  textLength="30.6" lengthAdjust="spacingAndGlyphs">Base station</text>
<text x="647.3" y="611.6" font-size="6.2" text-anchor="start" fill="#2a2a2a" font-weight="normal"  textLength="16.7" lengthAdjust="spacingAndGlyphs">GPRS</text>
<path d="M388.34,624.94 A3.20,3.20 0 0 1 392.86,624.94" stroke="#1e1e1e" stroke-width="2.15" fill="none"/><path d="M386.15,622.75 A6.30,6.30 0 0 1 395.05,622.75" stroke="#1e1e1e" stroke-width="2.15" fill="none"/><path d="M383.95,620.55 A9.40,9.40 0 0 1 397.25,620.55" stroke="#1e1e1e" stroke-width="2.15" fill="none"/><circle cx="390.6" cy="627.5" r="1.50" fill="#1e1e1e"/>
<path d="M447.34,624.94 A3.20,3.20 0 0 1 451.86,624.94" stroke="#1e1e1e" stroke-width="2.15" fill="none"/><path d="M445.15,622.75 A6.30,6.30 0 0 1 454.05,622.75" stroke="#1e1e1e" stroke-width="2.15" fill="none"/><path d="M442.95,620.55 A9.40,9.40 0 0 1 456.25,620.55" stroke="#1e1e1e" stroke-width="2.15" fill="none"/><circle cx="449.6" cy="627.5" r="1.50" fill="#1e1e1e"/>
<path d="M509.54,624.94 A3.20,3.20 0 0 1 514.06,624.94" stroke="#1e1e1e" stroke-width="2.15" fill="none"/><path d="M507.35,622.75 A6.30,6.30 0 0 1 516.25,622.75" stroke="#1e1e1e" stroke-width="2.15" fill="none"/><path d="M505.15,620.55 A9.40,9.40 0 0 1 518.45,620.55" stroke="#1e1e1e" stroke-width="2.15" fill="none"/><circle cx="511.8" cy="627.5" r="1.50" fill="#1e1e1e"/>
<path d="M577.54,624.94 A3.20,3.20 0 0 1 582.06,624.94" stroke="#1e1e1e" stroke-width="2.15" fill="none"/><path d="M575.35,622.75 A6.30,6.30 0 0 1 584.25,622.75" stroke="#1e1e1e" stroke-width="2.15" fill="none"/><path d="M573.15,620.55 A9.40,9.40 0 0 1 586.45,620.55" stroke="#1e1e1e" stroke-width="2.15" fill="none"/><circle cx="579.8" cy="627.5" r="1.50" fill="#1e1e1e"/>
<path d="M652.74,624.94 A3.20,3.20 0 0 1 657.26,624.94" stroke="#1e1e1e" stroke-width="2.15" fill="none"/><path d="M650.55,622.75 A6.30,6.30 0 0 1 659.45,622.75" stroke="#1e1e1e" stroke-width="2.15" fill="none"/><path d="M648.35,620.55 A9.40,9.40 0 0 1 661.65,620.55" stroke="#1e1e1e" stroke-width="2.15" fill="none"/><circle cx="655.0" cy="627.5" r="1.50" fill="#1e1e1e"/>
<rect x="383.2" y="632.2" width="14.4" height="20.5" fill="#fff" stroke="#a8a8a8" stroke-width="1"/><rect x="386.08" y="642.86" width="8.64" height="4.51" fill="#f2f2f2" stroke="#999" stroke-width="0.8"/><line x1="383.2" y1="652.7" x2="397.59999999999997" y2="652.7" stroke="#333" stroke-width="1.2"/><line x1="392.56" y1="652.7" x2="392.56" y2="657.7" stroke="#888" stroke-width="1"/>
<rect x="442.6" y="632.2" width="14.4" height="20.5" fill="#fff" stroke="#a8a8a8" stroke-width="1"/><rect x="445.48" y="642.86" width="8.64" height="4.51" fill="#f2f2f2" stroke="#999" stroke-width="0.8"/><line x1="442.6" y1="652.7" x2="457.0" y2="652.7" stroke="#333" stroke-width="1.2"/><line x1="451.96" y1="652.7" x2="451.96" y2="657.7" stroke="#888" stroke-width="1"/>
<text x="392.2" y="667.4" font-size="6.4" text-anchor="start" fill="#2a2a2a" font-weight="normal"  textLength="59.0" lengthAdjust="spacingAndGlyphs">Smart energy controller</text>
<rect x="497.5" y="631.8" width="27.3" height="22.7" fill="#fff" stroke="#b5b5b5" stroke-width="0.9" stroke-dasharray="1.2 1.2"/><rect x="507.60" y="642.01" width="8.19" height="5.67" fill="#fff" stroke="#aaa" stroke-width="0.8"/><line x1="498.5" y1="652.68" x2="516.61" y2="652.68" stroke="#444" stroke-width="1.1"/><line x1="519.89" y1="654.5" x2="519.89" y2="657.5" stroke="#777" stroke-width="0.9"/>
<rect x="532.4" y="631.8" width="27.3" height="22.7" fill="#fff" stroke="#b5b5b5" stroke-width="0.9" stroke-dasharray="1.2 1.2"/><rect x="542.50" y="642.01" width="8.19" height="5.67" fill="#fff" stroke="#aaa" stroke-width="0.8"/><line x1="533.4" y1="652.68" x2="551.51" y2="652.68" stroke="#444" stroke-width="1.1"/><line x1="554.79" y1="654.5" x2="554.79" y2="657.5" stroke="#777" stroke-width="0.9"/>
<rect x="566.3" y="631.8" width="26.7" height="22.7" fill="#fff" stroke="#b5b5b5" stroke-width="0.9" stroke-dasharray="1.2 1.2"/><rect x="576.18" y="642.01" width="8.01" height="5.67" fill="#fff" stroke="#aaa" stroke-width="0.8"/><line x1="567.3" y1="652.68" x2="584.99" y2="652.68" stroke="#444" stroke-width="1.1"/><line x1="588.19" y1="654.5" x2="588.19" y2="657.5" stroke="#777" stroke-width="0.9"/>
<rect x="601.8" y="631.8" width="26.6" height="22.7" fill="#fff" stroke="#b5b5b5" stroke-width="0.9" stroke-dasharray="1.2 1.2"/><rect x="611.64" y="642.01" width="7.98" height="5.67" fill="#fff" stroke="#aaa" stroke-width="0.8"/><line x1="602.8" y1="652.68" x2="620.42" y2="652.68" stroke="#444" stroke-width="1.1"/><line x1="623.61" y1="654.5" x2="623.61" y2="657.5" stroke="#777" stroke-width="0.9"/>
<rect x="641.2" y="631.8" width="27.8" height="22.7" fill="#fff" stroke="#b5b5b5" stroke-width="0.9" stroke-dasharray="1.2 1.2"/><rect x="651.49" y="642.01" width="8.34" height="5.67" fill="#fff" stroke="#aaa" stroke-width="0.8"/><line x1="642.2" y1="652.68" x2="660.66" y2="652.68" stroke="#444" stroke-width="1.1"/><line x1="664.00" y1="654.5" x2="664.00" y2="657.5" stroke="#777" stroke-width="0.9"/>
<rect x="593" y="647.6" width="8.8" height="2" fill="#333"/>
<text x="503.8" y="667.4" font-size="6.4" text-anchor="start" fill="#2a2a2a" font-weight="normal"  textLength="48.8" lengthAdjust="spacingAndGlyphs">Smart PV controller</text>
<text x="580.7" y="667.4" font-size="6.4" text-anchor="start" fill="#2a2a2a" font-weight="normal"  textLength="11.8" lengthAdjust="spacingAndGlyphs">WiFi</text>
<text x="634.7" y="667.4" font-size="6.4" text-anchor="start" fill="#2a2a2a" font-weight="normal"  textLength="49.4" lengthAdjust="spacingAndGlyphs">Smart PV controller</text>
<rect x="540.5" y="615.2" width="15.1" height="3.6" rx="1.2" fill="#1f1f1f"/>
<rect x="543" y="616.4" width="10" height="1.2" fill="#bbb"/>
<line x1="546.2" y1="618.7" x2="546.2" y2="632" stroke="#111" stroke-width="1.5"/>
<line x1="547.8" y1="609.8" x2="547.8" y2="615" stroke="#555" stroke-width="0.8"/>
<path d="M546.3,611.2 h3" stroke="#777" stroke-width="0.8"/>
<text x="548" y="607.5" font-size="4.6" text-anchor="middle" fill="#2a2a2a" font-weight="normal" >WLAN/2G</text>
<text x="532.5" y="619.6" font-size="4.8" text-anchor="middle" fill="#2a2a2a" font-weight="normal" >Data</text>
<text x="534.7" y="624.9" font-size="4.8" text-anchor="middle" fill="#2a2a2a" font-weight="normal" >selector</text>
</g>
</svg>
<div class="t" style="left:88.60px;top:28.49px;font-size:13.6px;font-weight:bold;letter-spacing:-0.533px">SYSTEM ACCESSORIES</div>
<div class="t" style="left:92.20px;top:79.15px;font-size:14px;letter-spacing:-0.341px">PV Combiner Box</div>
<div class="t" style="left:92.20px;top:104.15px;font-size:14px;letter-spacing:-0.186px">PV Cable 4mm² &amp; 6mm²</div>
<div class="t" style="left:92.20px;top:129.15px;font-size:14px;letter-spacing:-0.240px">MC4 Connector</div>
<div class="t" style="left:89.40px;top:154.15px;font-size:14px;letter-spacing:-0.059px">Optional.Installation Tools</div>
<div class="t" style="left:88.40px;top:179.15px;font-size:14px;letter-spacing:-0.091px">Lifetime: 25 Years</div>
<div class="t" style="left:473.40px;top:223.49px;font-size:13.6px;font-weight:bold;letter-spacing:-0.237px">Mounting Brackets</div>
<div class="t" style="left:461.60px;top:254.95px;font-size:14px;letter-spacing:-0.138px">1.Ground Solar Mounting system</div>
<div class="t" style="left:462.60px;top:279.95px;font-size:14px;letter-spacing:-0.168px">2.Residential Roof(Pitched Roof)</div>
<div class="t" style="left:462.60px;top:304.95px;font-size:14px;letter-spacing:-0.127px">3.Car parking solar mounting system</div>
<div class="t" style="left:462.60px;top:329.95px;font-size:14px;letter-spacing:-0.038px">4.Vertical wall solar mounting system</div>
<div class="t" style="left:462.60px;top:354.95px;font-size:14px;letter-spacing:-0.088px">5.Commercial Roof(Flat roof&amp;workshop roof)</div>
<div class="t" style="left:462.60px;top:379.95px;font-size:14px;letter-spacing:-0.042px">6.All aluminum structure solar mounting</div>
<div class="t" style="left:462.60px;top:404.95px;font-size:14px;letter-spacing:-0.140px">system.</div>
<div class="t" style="left:4.40px;top:438.59px;font-size:13.6px;font-weight:bold;letter-spacing:-0.244px">SMART PV MONITORING PLATFORM</div>
<div class="t" style="left:3.40px;top:469.85px;font-size:14px;letter-spacing:-0.156px">Data Logging Stick allows you to receive</div>
<div class="t" style="left:4.40px;top:494.85px;font-size:14px;letter-spacing:-0.062px">information from solar power system, in order</div>
<div class="t" style="left:4.40px;top:519.85px;font-size:14px;letter-spacing:-0.065px">to keep you informed about the situation of</div>
<div class="t" style="left:4.40px;top:544.85px;font-size:14px;letter-spacing:-0.214px">your PV system, and the atmosphere</div>
<div class="t" style="left:4.40px;top:569.85px;font-size:14px;letter-spacing:-0.214px">conditions, everywhere and every time, thanks</div>
<div class="t" style="left:4.40px;top:594.85px;font-size:14px;letter-spacing:-0.284px">to our web server, accessible via Wi-Fi,Lan or</div>
<div class="t" style="left:4.40px;top:619.85px;font-size:14px;letter-spacing:-0.435px">GPRS.App Available for PC, IOS &amp; Andriod</div>
</body></html>
